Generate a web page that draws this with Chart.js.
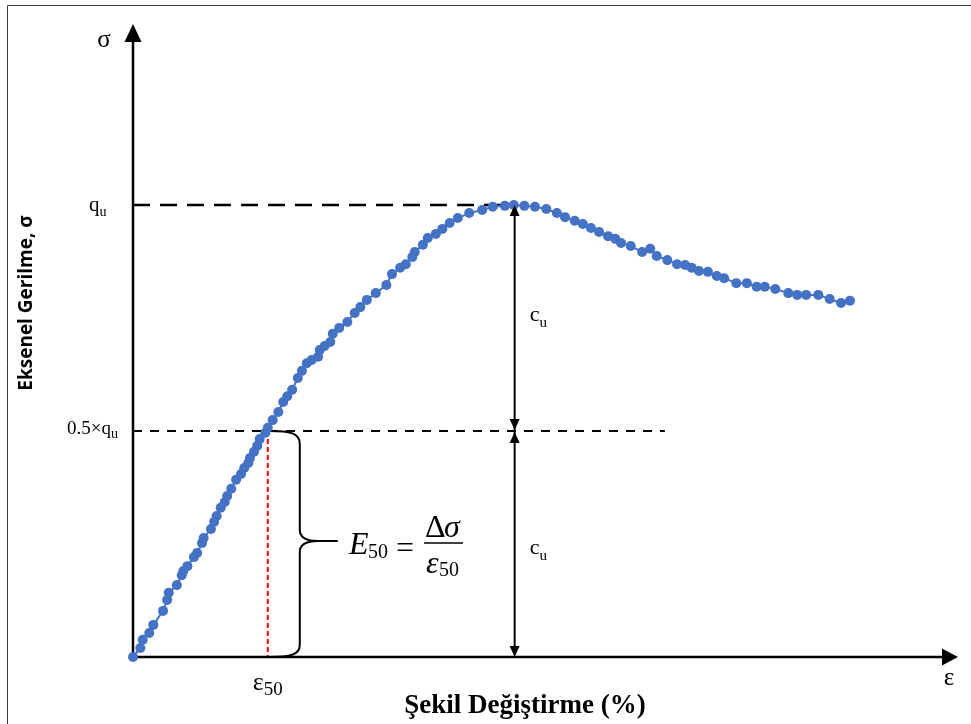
<!DOCTYPE html>
<html>
<head>
<meta charset="utf-8">
<script src="https://cdn.jsdelivr.net/npm/chart.js@4.4.1/dist/chart.umd.min.js"></script>
<style>
  html, body { margin: 0; padding: 0; background: #fff; }
  canvas { display: block; }
</style>
</head>
<body>
<canvas id="chart" width="971" height="724"></canvas>
<script>
  // ─── Data ──────────────────────────────────────────

  const strain = [
    0, 0.09, 0.12, 0.20, 0.25, 0.37, 0.42, 0.44, 0.54, 0.60,
    0.62, 0.67, 0.75, 0.79, 0.85, 0.87, 0.96, 1.00, 1.03, 1.08,
    1.13, 1.16, 1.21, 1.27, 1.33, 1.37, 1.42, 1.44, 1.49, 1.53,
    1.56, 1.63, 1.66, 1.72, 1.79, 1.85, 1.90, 1.96, 2.03, 2.08,
    2.14, 2.20, 2.28, 2.30, 2.36, 2.43, 2.46, 2.54, 2.64, 2.73,
    2.80, 2.88, 2.99, 3.12, 3.19, 3.29, 3.36, 3.44, 3.47, 3.57,
    3.63, 3.73, 3.81, 3.90, 4.00, 4.14, 4.30, 4.43, 4.58, 4.69,
    4.82, 4.95, 5.09, 5.22, 5.32, 5.44, 5.54, 5.64, 5.74, 5.85,
    5.94, 6.01, 6.13, 6.27, 6.37, 6.45, 6.58, 6.70, 6.80, 6.88,
    6.97, 7.08, 7.19, 7.28, 7.43, 7.56, 7.68, 7.78, 7.91, 8.07,
    8.18, 8.29, 8.44, 8.58, 8.72, 8.83,
  ];

  const stress = [
    0, 2.0, 3.8, 5.3, 7.1, 10.2, 12.6, 14.2, 15.9, 18.1,
    19.0, 20.1, 22.1, 23.0, 25.2, 26.3, 28.3, 29.9, 31.2, 33.0,
    34.3, 35.6, 37.2, 39.2, 40.5, 41.8, 42.9, 44.0, 45.4, 46.7,
    48.2, 49.6, 50.7, 52.4, 54.2, 56.4, 57.7, 59.1, 61.7, 63.3,
    65.0, 65.7, 66.4, 67.9, 68.8, 69.7, 71.5, 72.8, 74.1, 76.1,
    77.4, 79.0, 80.5, 82.3, 84.7, 86.1, 86.9, 88.5, 89.6, 91.2,
    92.7, 93.6, 94.7, 96.0, 97.1, 98.2, 98.9, 99.6, 99.8, 100.0,
    99.8, 99.6, 99.1, 98.2, 97.3, 96.5, 95.8, 94.9, 94.0, 93.1,
    92.5, 91.6, 90.9, 89.6, 90.3, 88.7, 87.8, 86.9, 86.7, 86.1,
    85.4, 85.2, 84.3, 83.8, 82.7, 82.7, 81.9, 81.9, 81.4, 80.5,
    80.1, 80.1, 80.1, 79.2, 78.3, 78.8,
  ];

  const QU = 100;             // peak stress
  const HALF_QU = 50;         // 0.5 x qu
  const EPS50 = 1.66;         // strain at 0.5 x qu
  const PEAK_STRAIN = 4.70;   // where the cu arrows stand
  const HALF_LINE_END = 6.55; // end of the 0.5 x qu dashed line
  const X_MAX = 10;
  const Y_MAX = 138.7;

  const BLUE = '#4472C4';
  const SERIF = '"Liberation Serif", "Times New Roman", serif';

  // ─── Drawing helpers ───────────────────────────────

  function dashed(ctx, x1, y1, x2, y2, dash, width, color) {
    ctx.save();
    ctx.strokeStyle = color;
    ctx.lineWidth = width;
    ctx.setLineDash(dash);
    ctx.beginPath();
    ctx.moveTo(x1, y1);
    ctx.lineTo(x2, y2);
    ctx.stroke();
    ctx.restore();
  }

  // triangle head, tip at (x, y), pointing in dir: 'up' | 'down' | 'right'
  function head(ctx, x, y, dir, w, h) {
    ctx.beginPath();
    if (dir === 'up') {
      ctx.moveTo(x, y); ctx.lineTo(x - w / 2, y + h); ctx.lineTo(x + w / 2, y + h);
    } else if (dir === 'down') {
      ctx.moveTo(x, y); ctx.lineTo(x - w / 2, y - h); ctx.lineTo(x + w / 2, y - h);
    } else {
      ctx.moveTo(x, y); ctx.lineTo(x - h, y - w / 2); ctx.lineTo(x - h, y + w / 2);
    }
    ctx.closePath();
    ctx.fill();
  }

  function withSub(ctx, main, sub, x, y, mainFont, subFont, dy) {
    ctx.font = mainFont;
    ctx.fillText(main, x, y);
    const w = ctx.measureText(main).width;
    ctx.font = subFont;
    ctx.fillText(sub, x + w, y + dy);
  }

  // font size that makes text about `target` px wide
  function fitSize(ctx, text, style, family, target) {
    ctx.font = `${style} 20px ${family}`;
    return Math.round((20 * target) / ctx.measureText(text).width);
  }

  // ─── Annotation plugin ─────────────────────────────

  const sketch = {
    id: 'sketch',
    beforeDatasetsDraw(chart) {
      const { ctx, chartArea: a, scales: { x, y } } = chart;
      const x0 = x.getPixelForValue(0);
      const y0 = y.getPixelForValue(0);
      const yQu = y.getPixelForValue(QU);
      const yHalf = y.getPixelForValue(HALF_QU);
      const xE = x.getPixelForValue(EPS50);

      ctx.save();

      // picture frame
      ctx.strokeStyle = '#3a3a3a';
      ctx.lineWidth = 1;
      ctx.beginPath();
      ctx.moveTo(7.5, chart.height);
      ctx.lineTo(7.5, 5.5);
      ctx.lineTo(chart.width, 5.5);
      ctx.stroke();

      dashed(ctx, x0, yQu, x.getPixelForValue(PEAK_STRAIN), yQu, [17, 10], 2.5, '#000');
      dashed(ctx, x0, yHalf, x.getPixelForValue(HALF_LINE_END), yHalf, [9, 8], 2, '#000');
      dashed(ctx, xE, yHalf, xE, y0, [5, 3], 2, '#ff0000');

      // curly brace from 0.5 x qu down to the axis
      const bx = xE + 32;
      const mid = (yHalf + y0) / 2 - 3;
      ctx.strokeStyle = '#000';
      ctx.lineWidth = 2;
      ctx.beginPath();
      ctx.moveTo(xE + 2, yHalf);
      ctx.bezierCurveTo(bx - 10, yHalf, bx, yHalf + 2, bx, yHalf + 13);
      ctx.lineTo(bx, mid - 11);
      ctx.bezierCurveTo(bx, mid - 3, bx + 8, mid, bx + 18, mid);
      ctx.lineTo(bx + 38, mid);
      ctx.moveTo(bx + 18, mid);
      ctx.bezierCurveTo(bx + 8, mid, bx, mid + 3, bx, mid + 11);
      ctx.lineTo(bx, y0 - 12);
      ctx.bezierCurveTo(bx, y0 - 2, bx - 10, y0, xE + 2, y0);
      ctx.stroke();

      // axes with arrow heads
      ctx.fillStyle = '#000';
      ctx.lineWidth = 2.5;
      ctx.beginPath();
      ctx.moveTo(x0, y0);
      ctx.lineTo(a.right, y0);
      ctx.moveTo(x0, y0);
      ctx.lineTo(x0, a.top + 4);
      ctx.stroke();
      head(ctx, a.right + 13, y0, 'right', 17, 16);
      head(ctx, x0, a.top - 6, 'up', 17, 18);

      ctx.restore();
    },

    afterDatasetsDraw(chart) {
      const { ctx, scales: { x, y } } = chart;
      const x0 = x.getPixelForValue(0);
      const y0 = y.getPixelForValue(0);
      const yQu = y.getPixelForValue(QU);
      const yHalf = y.getPixelForValue(HALF_QU);
      const xE = x.getPixelForValue(EPS50);
      const xP = x.getPixelForValue(PEAK_STRAIN);

      ctx.save();
      ctx.fillStyle = '#000';
      ctx.strokeStyle = '#000';

      // cu double arrows
      ctx.lineWidth = 2;
      ctx.beginPath();
      ctx.moveTo(xP, yQu + 8);
      ctx.lineTo(xP, y0 - 8);
      ctx.stroke();
      head(ctx, xP, yQu, 'up', 10, 11);
      head(ctx, xP, yHalf - 1, 'down', 10, 11);
      head(ctx, xP, yHalf + 1, 'up', 10, 11);
      head(ctx, xP, y0, 'down', 10, 11);

      // axis symbols
      ctx.textAlign = 'center';
      ctx.textBaseline = 'middle';
      ctx.font = `25px ${SERIF}`;
      ctx.fillText('σ', x0 - 29, 40);
      ctx.fillText('ε', 949, 678);

      ctx.textBaseline = 'alphabetic';
      ctx.textAlign = 'left';
      withSub(ctx, 'q', 'u', x0 - 44, yQu + 6, `21px ${SERIF}`, `14px ${SERIF}`, 5);
      withSub(ctx, '0.5×q', 'u', x0 - 66, yHalf + 3, `19px ${SERIF}`, `14px ${SERIF}`, 4);
      withSub(ctx, 'c', 'u', xP + 15, 321, `22px ${SERIF}`, `15px ${SERIF}`, 6);
      withSub(ctx, 'c', 'u', xP + 15, 554, `22px ${SERIF}`, `15px ${SERIF}`, 6);
      withSub(ctx, 'ε', '50', xE - 15, 690, `26px ${SERIF}`, `19px ${SERIF}`, 5);

      // E50 = Δσ / ε50
      ctx.font = `italic 32px ${SERIF}`;
      ctx.fillText('E', 349, 554);
      ctx.font = `20px ${SERIF}`;
      ctx.fillText('50', 368, 558);
      ctx.font = `32px ${SERIF}`;
      ctx.fillText('=', 396, 558);
      ctx.fillText('Δ', 425, 537);
      ctx.font = `italic 32px ${SERIF}`;
      ctx.fillText('σ', 444, 537);
      ctx.fillText('ε', 426, 573);
      ctx.font = `20px ${SERIF}`;
      ctx.fillText('50', 439, 576);
      ctx.lineWidth = 1.5;
      ctx.beginPath();
      ctx.moveTo(424, 543);
      ctx.lineTo(463, 543);
      ctx.stroke();

      // axis titles
      ctx.textAlign = 'center';
      const xTitle = 'Şekil Değiştirme (%)';
      ctx.font = `bold ${fitSize(ctx, xTitle, 'bold', SERIF, 244)}px ${SERIF}`;
      ctx.fillText(xTitle, 525, 713);

      const yTitle = 'Eksenel Gerilme, σ';
      const sans = '"Open Sans", "Liberation Sans", sans-serif';
      ctx.translate(32, 303);
      ctx.rotate(-Math.PI / 2);
      ctx.font = `bold ${fitSize(ctx, yTitle, 'bold', sans, 173)}px ${sans}`;
      ctx.fillText(yTitle, 0, 0);

      ctx.restore();
    },
  };

  // ─── Chart ─────────────────────────────────────────

  const points = strain.map((s, i) => ({ x: s, y: stress[i] }));

  new Chart(document.getElementById('chart'), {
    type: 'scatter',
    data: {
      datasets: [
        {
          data: points,
          showLine: true,
          borderColor: BLUE,
          borderWidth: 2,
          backgroundColor: BLUE,
          pointBackgroundColor: BLUE,
          pointBorderWidth: 0,
          pointRadius: 5,
          clip: false,
        },
      ],
    },
    options: {
      responsive: false,
      animation: false,
      layout: { padding: { left: 133, right: 26, top: 30, bottom: 67 } },
      plugins: { legend: { display: false }, tooltip: { enabled: false } },
      scales: {
        x: { type: 'linear', min: 0, max: X_MAX, display: false },
        y: { type: 'linear', min: 0, max: Y_MAX, display: false },
      },
    },
    plugins: [sketch],
  });
</script>
</body>
</html>
